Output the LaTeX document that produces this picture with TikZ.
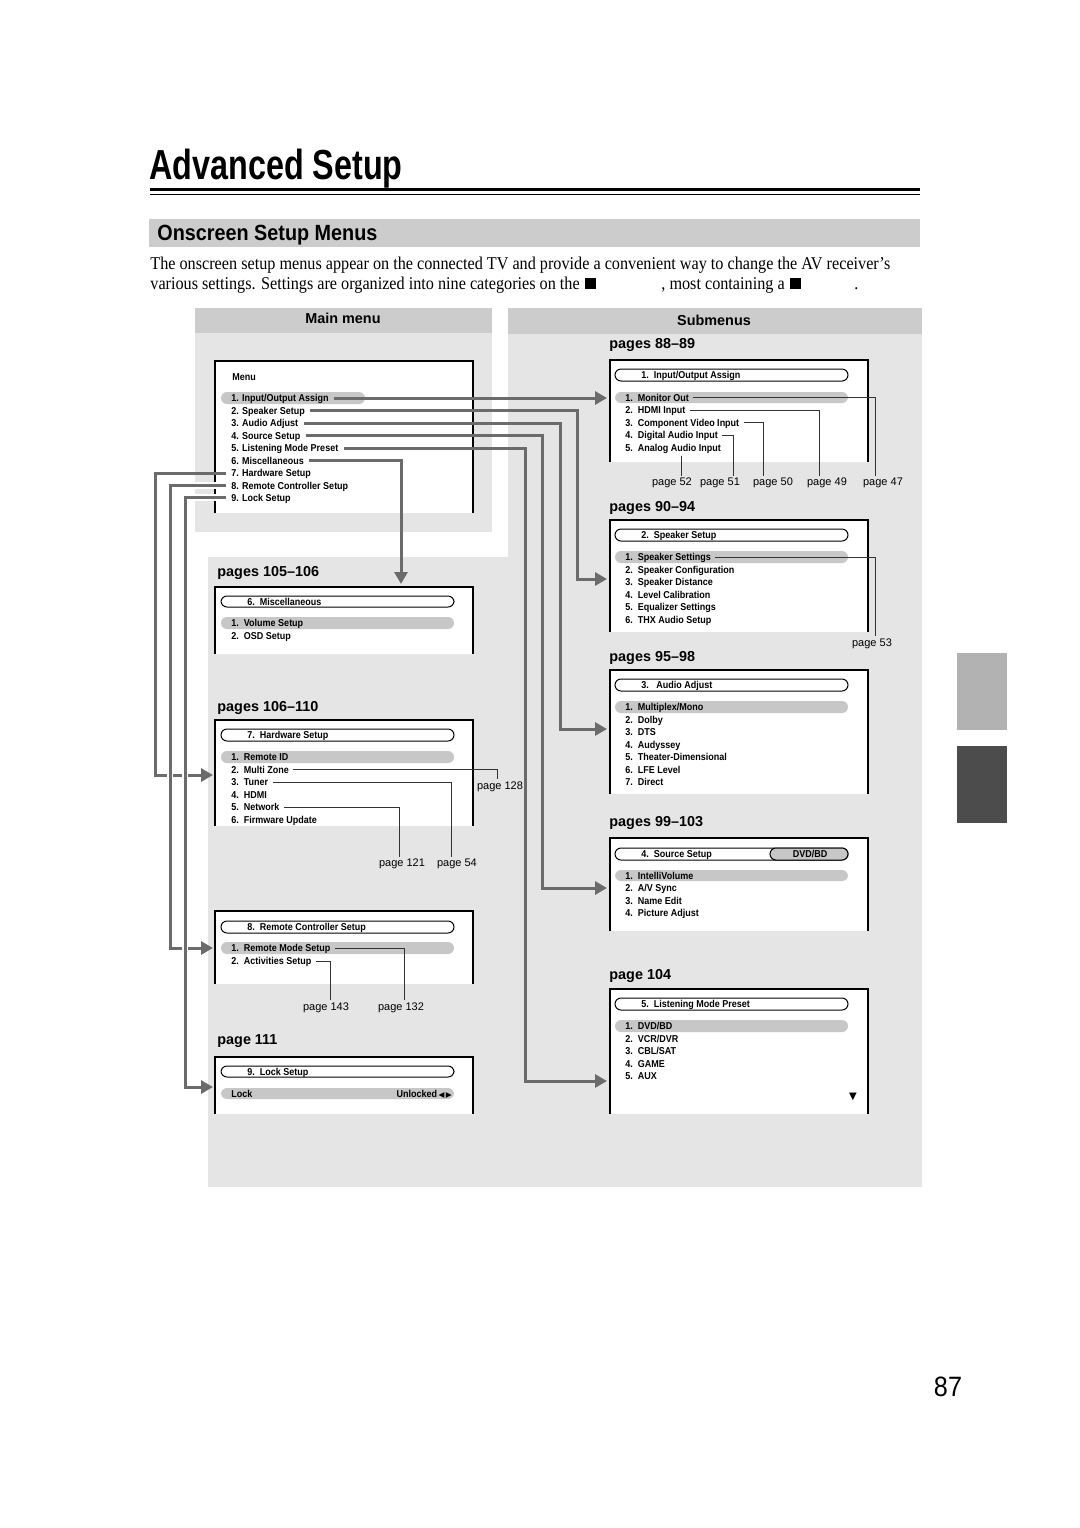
\documentclass[tikz,border=0pt]{standalone}
\usepackage{fontspec}
\setmainfont[FakeStretch=0.9]{Liberation Serif}
\newfontfamily\hvc[FakeStretch=0.9]{Liberation Sans}
\newfontfamily\hvt[FakeStretch=0.77]{Liberation Sans}
\newfontfamily\hvo[FakeStretch=0.9]{Liberation Sans}
\newfontfamily\hvs{Liberation Sans}
\newfontfamily\dvs{DejaVu Sans}
\usetikzlibrary{arrows.meta}
\definecolor{hdr}{gray}{0.80}
\definecolor{pnl}{gray}{0.90}
\definecolor{hl}{gray}{0.78}
\definecolor{conncol}{gray}{0.42}
\definecolor{tabl}{gray}{0.70}
\definecolor{tabd}{gray}{0.30}
\tikzset{
  item/.style={anchor=west,inner sep=0pt,text height=3.6pt,text depth=0pt,font=\hvc\bfseries\fontsize{5}{6}\selectfont},
  pg/.style={inner sep=0pt,font=\hvs\fontsize{5.5}{6}\selectfont},
  sec/.style={anchor=base west,inner sep=0pt,font=\hvs\bfseries\fontsize{7.2}{8}\selectfont},
  hdrtext/.style={inner sep=0pt,font=\hvs\bfseries\fontsize{7.2}{8}\selectfont},
  body/.style={anchor=base west,inner sep=0pt,font=\fontsize{9}{11}\selectfont},
  conn/.style={draw=conncol,line width=1.5pt,shorten <=2.5pt,-{Triangle[length=6pt,width=6.5pt]}},
  halo/.style={preaction={draw=white,line width=3.2pt,-,shorten >=6pt,shorten <=2.5pt}},
  thinc/.style={draw=black!80,line width=0.5pt,shorten <=2pt},
  tpill/.style={draw=black,line width=0.5pt,fill=white,rounded corners=3pt},
  hpill/.style={fill=hl,rounded corners=3pt},
  scrframe/.style={draw=black,line width=0.6pt}
}
\newcommand\scrbox[5]{%
  \coordinate (#1nw) at (#2,#3); \coordinate (#1se) at (#4,#5);
  \fill[white] (#1nw) rectangle (#1se);
  \draw[scrframe] (#1nw |- #1se) -- (#1nw) -| (#1se);}
\newcommand\itm[4]{\node[item] (#1) at (#2,#3) {#4};}
\begin{document}
\begin{tikzpicture}[x=0.5pt,y=-0.5pt]
\useasboundingbox (0,0) rectangle (1080,1528);
\fill[white] (0,0) rectangle (1080,1528);

% title
\node[anchor=base west,inner sep=0pt,font=\hvt\bfseries\fontsize{21}{24}\selectfont] (title) at (149,179) {Advanced Setup};
\draw[line width=1.6pt] (150,189.5) -- (920,189.5);
\draw[line width=0.5pt] (150,194.5) -- (920,194.5);
\fill[hdr] (149,219) rectangle (920,247);
\node[anchor=base west,inner sep=0pt,font=\hvo\bfseries\fontsize{11}{13}\selectfont] (sect) at (157,240) {Onscreen Setup Menus};

% body text
\node[body] (p1) at (150,269) {The onscreen setup menus appear on the connected TV and provide a convenient way to change the AV receiver’s};
\node[body] (p2a) at (150,289) {various settings. Settings are organized into nine categories on the};
\fill[black] (585,278) rectangle (596,289);
\node[body] (p2b) at (661,289) {, most containing a};
\fill[black] (790,278) rectangle (801,289);
\node[body] (p2c) at (854,289) {.};

% panels
\fill[hdr] (195,308) rectangle (492,333);
\fill[pnl] (195,333) rectangle (492,532);
\fill[hdr] (508,308) rectangle (922,334);
\fill[pnl] (508,334) rectangle (922,557);
\fill[pnl] (208,557) rectangle (922,1187);
\node[hdrtext] (hmain) at (343,318) {Main menu};
\node[hdrtext] (hsub) at (714,320) {Submenus};

% right tabs
\fill[tabl] (957,653) rectangle (1007,730);
\fill[tabd] (957,746) rectangle (1007,823);

% page number
\node[inner sep=0pt,font=\hvo\fontsize{14}{16}\selectfont] (pnum) at (948,1387) {87};

% ---------- main menu box
\scrbox{mb}{215}{361}{473}{513}
\node[item] (mm) at (232,377) {Menu};
\fill[hpill] (221,392) rectangle (365,404);
\itm{m1}{231}{398}{1. Input/Output Assign}
\itm{m2}{231}{410.5}{2. Speaker Setup}
\itm{m3}{231}{423}{3. Audio Adjust}
\itm{m4}{231}{435.5}{4. Source Setup}
\itm{m5}{231}{448}{5. Listening Mode Preset}
\itm{m6}{231}{460.5}{6. Miscellaneous}
\itm{m7}{231}{473}{7. Hardware Setup}
\itm{m8}{231}{485.5}{8. Remote Controller Setup}
\itm{m9}{231}{497.5}{9. Lock Setup}

% ---------- submenu A
\node[sec] (lA) at (609,348) {pages 88–89};
\scrbox{bA}{610}{360}{868}{462}
\draw[tpill] (615,369) rectangle (848,381);
\itm{tA}{641}{375}{1.\ \ Input/Output Assign}
\fill[hpill] (615,392) rectangle (848,403);
\itm{s1}{625}{397.5}{1.\ \ Monitor Out}
\itm{s2}{625}{410}{2.\ \ HDMI Input}
\itm{s3}{625}{422.5}{3.\ \ Component Video Input}
\itm{s4}{625}{435}{4.\ \ Digital Audio Input}
\itm{s5}{625}{447.5}{5.\ \ Analog Audio Input}
\node[pg] (q52) at (672,482.5) {page 52};
\node[pg] (q51) at (720,482.5) {page 51};
\node[pg] (q50) at (773,482.5) {page 50};
\node[pg] (q49) at (827,482.5) {page 49};
\node[pg] (q47) at (883,482.5) {page 47};
\draw[thinc] (s1.east) -| (875,476);
\draw[thinc] (s2.east) -| (819,476);
\draw[thinc] (s3.east) -| (763,476);
\draw[thinc] (s4.east) -| (733,476);
\coordinate (k52) at (681,476);
\draw[thinc] (k52 |- s5.south) -- (k52);

% ---------- submenu B
\node[sec] (lB) at (609,511) {pages 90–94};
\scrbox{bB}{610}{520}{868}{632}
\draw[tpill] (615,529) rectangle (848,541);
\itm{tB}{641}{535}{2.\ \ Speaker Setup}
\fill[hpill] (615,551) rectangle (848,563);
\itm{b1}{625}{557}{1.\ \ Speaker Settings}
\itm{b2}{625}{569.5}{2.\ \ Speaker Configuration}
\itm{b3}{625}{582}{3.\ \ Speaker Distance}
\itm{b4}{625}{594.5}{4.\ \ Level Calibration}
\itm{b5}{625}{607}{5.\ \ Equalizer Settings}
\itm{b6}{625}{619.5}{6.\ \ THX Audio Setup}
\node[pg] (q53) at (872,643.5) {page 53};
\draw[thinc] (b1.east) -| (875,636);

% ---------- submenu C
\node[sec] (lC) at (609,661) {pages 95–98};
\scrbox{bC}{610}{670}{868}{794}
\draw[tpill] (615,679) rectangle (848,691);
\itm{tC}{641}{685}{3.\ \ \ Audio Adjust}
\fill[hpill] (615,701) rectangle (848,713);
\itm{c1}{625}{707}{1.\ \ Multiplex/Mono}
\itm{c2}{625}{719.5}{2.\ \ Dolby}
\itm{c3}{625}{732}{3.\ \ DTS}
\itm{c4}{625}{744.5}{4.\ \ Audyssey}
\itm{c5}{625}{757}{5.\ \ Theater-Dimensional}
\itm{c6}{625}{769.5}{6.\ \ LFE Level}
\itm{c7}{625}{782}{7.\ \ Direct}

% ---------- submenu D
\node[sec] (lD) at (609,826) {pages 99–103};
\scrbox{bD}{610}{838}{868}{931}
\draw[tpill] (615,848) rectangle (848,860);
\draw[tpill,fill=hl] (770,848) rectangle (848,860);
\itm{tD}{641}{854}{4.\ \ Source Setup}
\node[item,anchor=center] (dvd) at (810,854) {DVD/BD};
\fill[hpill] (615,870) rectangle (848,881);
\itm{d1}{625}{875.5}{1.\ \ IntelliVolume}
\itm{d2}{625}{888}{2.\ \ A/V Sync}
\itm{d3}{625}{900.5}{3.\ \ Name Edit}
\itm{d4}{625}{913}{4.\ \ Picture Adjust}

% ---------- submenu E
\node[sec] (lE) at (609,979) {page 104};
\scrbox{bE}{610}{989}{868}{1114}
\draw[tpill] (615,998) rectangle (848,1010);
\itm{tE}{641}{1004}{5.\ \ Listening Mode Preset}
\fill[hpill] (615,1020) rectangle (848,1032);
\itm{e1}{625}{1026}{1.\ \ DVD/BD}
\itm{e2}{625}{1038.5}{2.\ \ VCR/DVR}
\itm{e3}{625}{1051}{3.\ \ CBL/SAT}
\itm{e4}{625}{1063.5}{4.\ \ GAME}
\itm{e5}{625}{1076}{5.\ \ AUX}
\node[inner sep=0pt,font=\dvs\fontsize{5}{6}\selectfont] (down) at (853,1097) {▼};

% ---------- left box F
\node[sec] (lF) at (217,576) {pages 105–106};
\scrbox{bF}{215}{587}{473}{654}
\draw[tpill] (221,596) rectangle (454,607);
\itm{tF}{247}{601.5}{6.\ \ Miscellaneous}
\fill[hpill] (221,617) rectangle (454,629);
\itm{f1}{231}{623}{1.\ \ Volume Setup}
\itm{f2}{231}{635.5}{2.\ \ OSD Setup}

% ---------- left box G
\node[sec] (lG) at (217,711) {pages 106–110};
\scrbox{bG}{215}{720}{473}{826}
\draw[tpill] (221,729) rectangle (454,741);
\itm{tG}{247}{735}{7.\ \ Hardware Setup}
\fill[hpill] (221,751) rectangle (454,763);
\itm{g1}{231}{757}{1.\ \ Remote ID}
\itm{g2}{231}{769.5}{2.\ \ Multi Zone}
\itm{g3}{231}{782}{3.\ \ Tuner}
\itm{g4}{231}{794.5}{4.\ \ HDMI}
\itm{g5}{231}{807}{5.\ \ Network}
\itm{g6}{231}{819.5}{6.\ \ Firmware Update}
\node[pg] (q128) at (500,787) {page 128};
\node[pg] (q54) at (457,863.5) {page 54};
\node[pg] (q121) at (402,863.5) {page 121};
\draw[thinc] (g2.east) -| (497,779);
\draw[thinc] (g3.east) -| (451,857);
\draw[thinc] (g5.east) -| (399,857);

% ---------- left box H
\scrbox{bH}{215}{911}{473}{984}
\draw[tpill] (221,921) rectangle (454,933);
\itm{tH}{247}{927}{8.\ \ Remote Controller Setup}
\fill[hpill] (221,942) rectangle (454,954);
\itm{h1}{231}{948}{1.\ \ Remote Mode Setup}
\itm{h2}{231}{961}{2.\ \ Activities Setup}
\node[pg] (q132) at (401,1007.5) {page 132};
\node[pg] (q143) at (326,1007.5) {page 143};
\draw[thinc] (h1.east) -| (404,1000);
\draw[thinc] (h2.east) -| (330,1000);

% ---------- left box I
\node[sec] (lI) at (217,1044) {page 111};
\scrbox{bI}{215}{1057}{473}{1114}
\draw[tpill] (221,1066) rectangle (454,1077);
\itm{tI}{247}{1071.5}{9.\ \ Lock Setup}
\fill[hpill] (221,1088) rectangle (454,1099);
\itm{i1}{231}{1093.5}{Lock}
\node[item,anchor=east] (i2) at (452,1093.5) {Unlocked\,{\dvs\fontsize{3.8}{5}\selectfont ◀\hspace{0.6pt}▶}};

% ---------- main connectors
\coordinate (arrA) at (607,398);
\draw[conn] (m1.east) -- (m1.east -| arrA);
\draw[conn] (m2.east) -| (577,579) -- (607,579);
\draw[conn] (m3.east) -| (560,729) -- (607,729);
\draw[conn] (m4.east) -| (542,888) -- (607,888);
\draw[conn] (m5.east) -| (525,1081) -- (607,1081);
\draw[conn] (m6.east) -| (401,584);
\draw[conn] (m7.west) -| (155,775) -- (213,775);
\draw[conn,halo] (m8.west) -| (170,948) -- (213,948);
\draw[conn,halo] (m9.west) -| (185,1087) -- (213,1087);
\end{tikzpicture}
\end{document}
